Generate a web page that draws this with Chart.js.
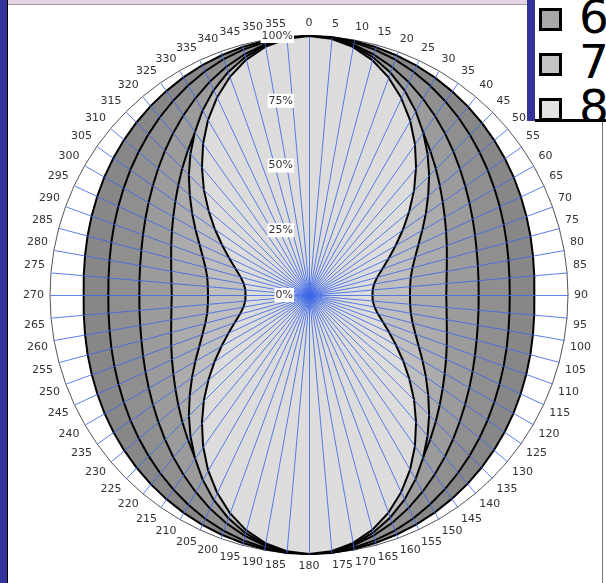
<!DOCTYPE html>
<html lang="en">
<head>
    <meta charset="UTF-8">
    <title>Radar</title>
    <script src="https://cdn.jsdelivr.net/npm/chart.js"></script>
    <style>
        html, body { margin: 0; padding: 0; background: #ffffff; overflow: hidden; width: 606px; height: 583px; }
        body { position: relative; font-family: 'DejaVu Sans', Verdana, sans-serif; }
        #leftBar { position: absolute; left: 0; top: 0; width: 7px; height: 583px; background: #333399; border-right: 1px solid #000; }
        #topStrip { position: absolute; left: 8px; top: 0; width: 519px; height: 4px; background: #e6d3e3; border-bottom: 1px solid #999; }
        #rightBar { position: absolute; left: 527px; top: 0; width: 8px; height: 121px; background: #333399; }
        #rightLine { position: absolute; left: 602px; top: 121px; width: 1px; height: 462px; background: #777; }
        #legend { position: absolute; left: 535px; top: 0; width: 80px; height: 119px; background: #fff; border-bottom: 3px solid #000; overflow: hidden; }
        .item { position: absolute; left: 4px; height: 45px; }
        .sw { position: absolute; left: 0; top: 8px; width: 17px; height: 17px; border: 3px solid #000; }
        .lbl { position: absolute; left: 40px; top: -8px; font-size: 47px; line-height: 50px; color: #000; }
        #wrap { position: absolute; left: 21px; top: 15px; width: 572px; height: 562px; }
    </style>
</head>
<body>
    <div id="leftBar"></div>
    <div id="topStrip"></div>
    <div id="wrap"><canvas id="radar" width="572" height="562"></canvas></div>
    <div id="rightLine"></div>
    <div id="rightBar"></div>
    <div id="legend">
        <div class="item" style="top:0px"><div class="sw" style="background:#a8a8a8"></div><div class="lbl">6</div></div>
        <div class="item" style="top:45px"><div class="sw" style="background:#c4c4c4"></div><div class="lbl">7</div></div>
        <div class="item" style="top:90px"><div class="sw" style="background:#e2e2e2"></div><div class="lbl">8</div></div>
    </div>

    <script>
        // angles round the chart, every 5 degrees
        const angles = ["0","5","10","15","20","25","30","35","40","45","50","55","60","65","70","75","80","85",
            "90","95","100","105","110","115","120","125","130","135","140","145","150","155","160","165","170","175",
            "180","185","190","195","200","205","210","215","220","225","230","235","240","245","250","255","260","265",
            "270","275","280","285","290","295","300","305","310","315","320","325","330","335","340","345","350","355"];

        const tickValues = [0, 0.25, 0.5, 0.75, 1];
        const tickLabels = ["0%", "25%", "50%", "75%", "100%"];

        // series, outermost first
        const s1 = [1.00,1.00,0.996,0.991,0.985,0.978,0.970,0.961,0.952,0.942,0.932,0.922,0.912,0.902,0.893,0.885,0.878,0.873,
            0.870,0.873,0.878,0.885,0.893,0.902,0.912,0.922,0.932,0.942,0.952,0.961,0.970,0.978,0.985,0.991,0.996,1.00,
            1.00,1.00,0.996,0.991,0.985,0.978,0.970,0.961,0.952,0.942,0.932,0.922,0.912,0.902,0.893,0.885,0.878,0.873,
            0.870,0.873,0.878,0.885,0.893,0.902,0.912,0.922,0.932,0.942,0.952,0.961,0.970,0.978,0.985,0.991,0.996,1.00];
        const s2 = [1.00,0.998,0.991,0.981,0.968,0.952,0.934,0.915,0.896,0.877,0.859,0.842,0.826,0.812,0.800,0.790,0.782,0.777,
            0.775,0.777,0.782,0.790,0.800,0.812,0.826,0.842,0.859,0.877,0.896,0.915,0.934,0.952,0.968,0.981,0.991,0.998,
            1.00,0.998,0.991,0.981,0.968,0.952,0.934,0.915,0.896,0.877,0.859,0.842,0.826,0.812,0.800,0.790,0.782,0.777,
            0.775,0.777,0.782,0.790,0.800,0.812,0.826,0.842,0.859,0.877,0.896,0.915,0.934,0.952,0.968,0.981,0.991,0.998];
        const s3 = [1.00,0.995,0.982,0.962,0.937,0.908,0.877,0.846,0.816,0.787,0.760,0.736,0.715,0.697,0.682,0.670,0.662,0.657,
            0.655,0.657,0.662,0.670,0.682,0.697,0.715,0.736,0.760,0.787,0.816,0.846,0.877,0.908,0.937,0.962,0.982,0.995,
            1.00,0.995,0.982,0.962,0.937,0.908,0.877,0.846,0.816,0.787,0.760,0.736,0.715,0.697,0.682,0.670,0.662,0.657,
            0.655,0.657,0.662,0.670,0.682,0.697,0.715,0.736,0.760,0.787,0.816,0.846,0.877,0.908,0.937,0.962,0.982,0.995];
        const s4 = [1.00,0.992,0.970,0.937,0.897,0.853,0.809,0.767,0.728,0.692,0.659,0.630,0.605,0.584,0.566,0.551,0.540,0.533,
            0.530,0.533,0.540,0.551,0.566,0.584,0.605,0.630,0.659,0.692,0.728,0.767,0.809,0.853,0.897,0.937,0.970,0.992,
            1.00,0.992,0.970,0.937,0.897,0.853,0.809,0.767,0.728,0.692,0.659,0.630,0.605,0.584,0.566,0.551,0.540,0.533,
            0.530,0.533,0.540,0.551,0.566,0.584,0.605,0.630,0.659,0.692,0.728,0.767,0.809,0.853,0.897,0.937,0.970,0.992];
        const s5 = [1.00,0.994,0.978,0.951,0.915,0.872,0.822,0.768,0.712,0.656,0.601,0.551,0.506,0.467,0.437,0.414,0.399,0.392,
            0.390,0.392,0.399,0.414,0.437,0.467,0.506,0.551,0.601,0.656,0.712,0.768,0.822,0.872,0.915,0.951,0.978,0.994,
            1.00,0.994,0.978,0.951,0.915,0.872,0.822,0.768,0.712,0.656,0.601,0.551,0.506,0.467,0.437,0.414,0.399,0.392,
            0.390,0.392,0.399,0.414,0.437,0.467,0.506,0.551,0.601,0.656,0.712,0.768,0.822,0.872,0.915,0.951,0.978,0.994];
        const s6 = [1.00,0.993,0.973,0.940,0.895,0.841,0.780,0.713,0.643,0.574,0.506,0.444,0.388,0.341,0.303,0.274,0.256,0.247,
            0.245,0.247,0.256,0.274,0.303,0.341,0.388,0.444,0.506,0.574,0.643,0.713,0.780,0.841,0.895,0.940,0.973,0.993,
            1.00,0.993,0.973,0.940,0.895,0.841,0.780,0.713,0.643,0.574,0.506,0.444,0.388,0.341,0.303,0.274,0.256,0.247,
            0.245,0.247,0.256,0.274,0.303,0.341,0.388,0.444,0.506,0.574,0.643,0.713,0.780,0.841,0.895,0.940,0.973,0.993];

        const seriesNames = ["1", "2", "3", "4", "5", "6"];
        const seriesData = [s1, s2, s3, s4, s5, s6];
        const fills = ["#878787", "#8f8f8f", "#9b9b9b", "#ababab", "#bebebe", "#dcdcdc"];

        // fill each polygon just before its outline is drawn
        const polyFill = {
            id: "polyFill",
            beforeDatasetDraw(chart, args) {
                const pts = args.meta.data;
                const ctx = chart.ctx;
                ctx.save();
                ctx.beginPath();
                pts.forEach((p, i) => i ? ctx.lineTo(p.x, p.y) : ctx.moveTo(p.x, p.y));
                ctx.closePath();
                ctx.fillStyle = fills[args.index];
                ctx.fill();
                ctx.restore();
            }
        };

        // spokes on top of the filled areas, then the % labels
        const spokes = {
            id: "spokes",
            afterDatasetsDraw(chart) {
                const r = chart.scales.r;
                const ctx = chart.ctx;
                // snap the centre onto a pixel centre so the lines stay crisp
                const cx = Math.floor(r.xCenter) + 0.5;
                const cy = Math.floor(r.yCenter) + 0.5;
                ctx.save();
                ctx.strokeStyle = "rgba(62, 104, 232, 0.85)";
                ctx.lineWidth = 1;
                for (let i = 0; i < angles.length; i++) {
                    const p = r.getPointPosition(i, r.drawingArea);
                    ctx.beginPath();
                    ctx.moveTo(cx, cy);
                    ctx.lineTo(p.x - r.xCenter + cx, p.y - r.yCenter + cy);
                    ctx.stroke();
                }
                ctx.font = "11px 'DejaVu Sans'";
                ctx.textAlign = "right";
                ctx.textBaseline = "middle";
                tickValues.forEach((v, i) => {
                    const y = r.yCenter - r.getDistanceFromCenterForValue(v);
                    const w = ctx.measureText(tickLabels[i]).width;
                    const x = r.xCenter - 16;
                    ctx.fillStyle = "#ffffff";
                    ctx.fillRect(x - w - 1, y - 7, w + 2, 14);
                    ctx.fillStyle = "#333333";
                    ctx.fillText(tickLabels[i], x, y);
                });
                ctx.restore();
            }
        };

        new Chart(document.getElementById("radar"), {
            type: "radar",
            data: {
                labels: angles,
                datasets: seriesData.map((d, i) => ({
                    label: seriesNames[i],
                    data: d,
                    backgroundColor: fills[i],
                    borderColor: "#000000",
                    borderWidth: 2,
                    pointRadius: 0,
                    fill: false,
                    order: seriesData.length - i
                }))
            },
            options: {
                responsive: false,
                animation: false,
                devicePixelRatio: 1,
                plugins: { legend: { display: false }, tooltip: { enabled: false } },
                scales: {
                    r: {
                        min: 0,
                        max: 1,
                        ticks: { stepSize: 0.25, display: false },
                        angleLines: { display: false },
                        grid: { color: ctx => ctx.tick.value === 1 ? "#555555" : "rgba(0,0,0,0)", lineWidth: 1 },
                        pointLabels: { font: { family: "'DejaVu Sans'", size: 11 }, color: "#333333", padding: 6 }
                    }
                }
            },
            plugins: [polyFill, spokes]
        });
    </script>
</body>
</html>
